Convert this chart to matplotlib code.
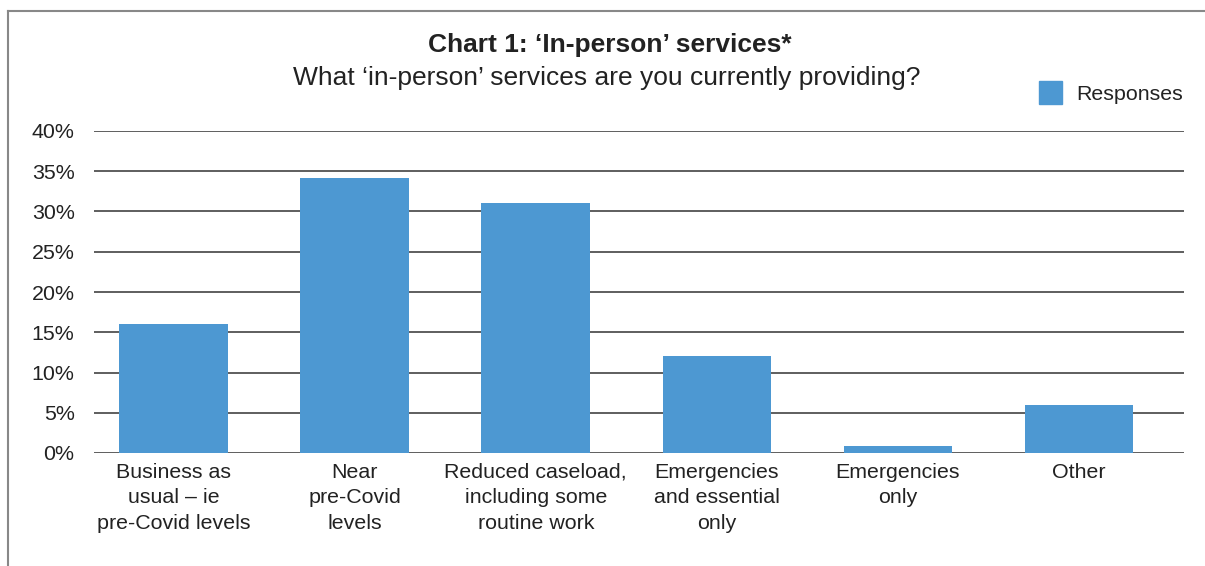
import matplotlib.pyplot as plt
from matplotlib.patches import Rectangle
from matplotlib.lines import Line2D

plt.rcParams['font.family'] = ['Liberation Sans', 'DejaVu Sans']

# Dados do gráfico
categorias = ["Business as\nusual – ie\npre-Covid levels", "Near\npre-Covid\nlevels",
              "Reduced caseload,\nincluding some\nroutine work", "Emergencies\nand essential\nonly",
              "Emergencies\nonly", "Other"]
respostas = [16.0, 34.2, 31.1, 12.0, 0.9, 6.0]
ticks_y = [0, 5, 10, 15, 20, 25, 30, 35, 40]
cor = "#4d98d2"

fig = plt.figure(figsize=(12.05, 5.66), dpi=100)
ax = fig.add_axes([94 / 1205, 1 - 453 / 566, (1184 - 94) / 1205, (453 - 131) / 566])

x = range(len(categorias))
ax.bar(x, respostas, width=0.6, color=cor, zorder=3)

ax.set_xlim(-0.44, 5.58)
ax.set_ylim(0, 40)
ax.set_yticks(ticks_y)
ax.set_yticklabels([f"{t}%" for t in ticks_y])
ax.set_xticks(list(x))
ax.set_xticklabels(categorias, linespacing=1.45, va="top")
ax.tick_params(axis="both", length=0, labelsize=15.4, colors="#222222")
ax.tick_params(axis="y", pad=14)
ax.tick_params(axis="x", pad=7)
ax.yaxis.grid(True, color="#333333", linewidth=1.1, zorder=0)
for s in ax.spines.values():
    s.set_visible(False)

# Títulos
fig.text(610 / 1205, 1 - 45 / 566, "Chart 1: ‘In-person’ services*", ha="center", va="center",
         fontsize=19, fontweight="bold", color="#222222")
fig.text(607 / 1205, 1 - 78 / 566, "What ‘in-person’ services are you currently providing?",
         ha="center", va="center", fontsize=19, color="#222222")

# Legenda
fig.patches.append(Rectangle((1039 / 1205, 1 - 104 / 566), 23 / 1205, 23 / 566,
                             transform=fig.transFigure, color=cor))
fig.text(1076 / 1205, 1 - 94 / 566, "Responses", ha="left", va="center", fontsize=15.4, color="#222222")

# Moldura
borda = dict(transform=fig.transFigure, color="#888888", linewidth=1.5)
fig.lines.append(Line2D([8 / 1205, 8 / 1205], [0, 1 - 11 / 566], **borda))
fig.lines.append(Line2D([8 / 1205, 1], [1 - 11 / 566, 1 - 11 / 566], **borda))

fig.savefig("out.png", dpi=100)
